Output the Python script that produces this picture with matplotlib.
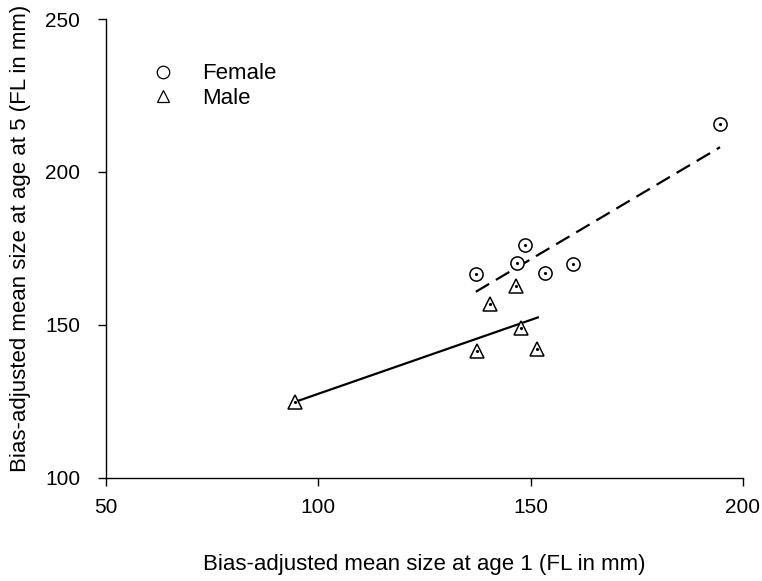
import matplotlib
matplotlib.use("Agg")
import matplotlib.pyplot as plt

plt.rcParams['font.family'] = ['Liberation Sans', 'DejaVu Sans']

female_x = [137.1, 148.6, 146.9, 153.4, 160.1, 194.5]
female_y = [166.6, 176.1, 170.3, 166.8, 169.8, 215.8]
male_x = [146.6, 140.4, 147.7, 137.4, 151.6, 94.6]
male_y = [162.8, 156.8, 149.1, 141.5, 142.0, 124.8]

female_fit_x = [137.1, 194.6]
female_fit_y = [160.8, 208.1]
male_fit_x = [94.6, 151.7]
male_fit_y = [124.8, 152.4]

x_ticks = [50, 100, 150, 200]
y_ticks = [100, 150, 200, 250]

fig = plt.figure(figsize=(7.62, 5.81), dpi=100)
ax = fig.add_axes([0.139, 0.178, 0.836, 0.789])

ax.plot(female_fit_x, female_fit_y, color='black', lw=1.6, dashes=(7, 3.5), zorder=2)
ax.plot(male_fit_x, male_fit_y, color='black', lw=1.6, zorder=2)

ax.plot(female_x, female_y, linestyle='none', marker='o', ms=9.5, mfc='white',
        mec='black', mew=1.1, zorder=3, label='Female')
ax.plot(male_x, male_y, linestyle='none', marker='^', ms=10, mfc='white',
        mec='black', mew=1.1, zorder=3, label='Male')
ax.plot(female_x, female_y, linestyle='none', marker='.', ms=2.5, color='black', zorder=4)
ax.plot(male_x, male_y, linestyle='none', marker='.', ms=2.5, color='black', zorder=4)

ax.set_xlim(50, 200)
ax.set_ylim(100, 250)
ax.set_xticks(x_ticks)
ax.set_yticks(y_ticks)
ax.tick_params(direction='out', length=5.5, width=1, labelsize=15)
ax.tick_params(axis='x', pad=9)
ax.tick_params(axis='y', pad=13)
for s in ['top', 'right']:
    ax.spines[s].set_visible(False)
for s in ['left', 'bottom']:
    ax.spines[s].set_linewidth(1)

ax.set_xlabel('Bias-adjusted mean size at age 1 (FL in mm)', fontsize=16, labelpad=27)
ax.set_ylabel('Bias-adjusted mean size at age at 5 (FL in mm)', fontsize=16)
ax.yaxis.set_label_coords(-0.117, 0.522)

leg = ax.legend(loc='upper left', bbox_to_anchor=(0.040, 0.947), frameon=False,
                fontsize=16, handletextpad=1.3, labelspacing=0.16, handlelength=1.0,
                borderpad=0.4)
for h in leg.legend_handles:
    h.set_markersize(9)
    h.set_markeredgewidth(0.9)

fig.savefig('out.png', dpi=100)
